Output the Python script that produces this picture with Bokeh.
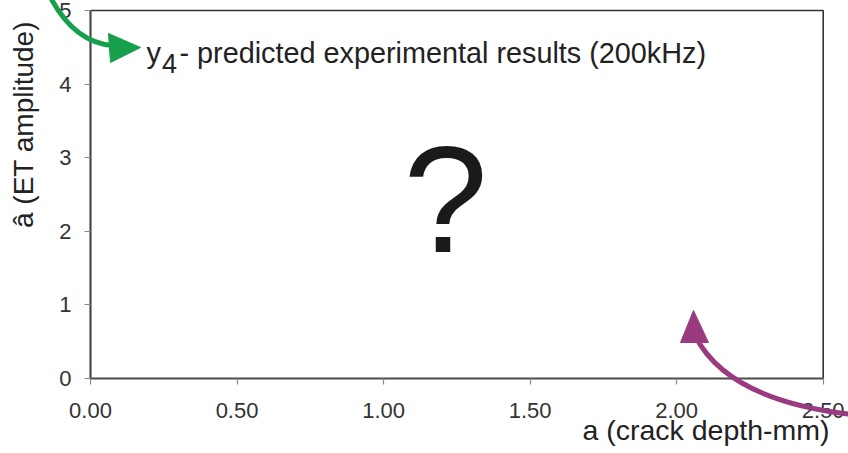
from bokeh.plotting import figure
from bokeh.models import (Range1d, LinearAxis, FixedTicker, NumeralTickFormatter,
                          Label)
from bokeh.embed import file_html
from bokeh.resources import INLINE
import math

# ---- data ----
x_ticks = [0.0, 0.5, 1.0, 1.5, 2.0, 2.5]
y_ticks = [0, 1, 2, 3, 4, 5]
x_title = "a (crack depth-mm)"
y_title = "\u00e2 (ET amplitude)"
note_main = "y"
note_sub = "4"
note_rest = "- predicted experimental results (200kHz)"
center_mark = "?"

W, H = 848, 453
# frame of the chart in pixels (axes drawn inside a full-canvas frame)
L, R, T, B = 90.0, 822.7, 10.0, 378.0
XMAX, YMAX = x_ticks[-1], y_ticks[-1]
kx = XMAX / (R - L)
ky = YMAX / (B - T)
SHIFT = 0.355  # baseline correction, fraction of font size

def X(px):
    return (px - L) * kx

def Y(py):
    return (B - py) * ky

p = figure(width=W, height=H, output_backend="svg", toolbar_location=None,
           x_range=Range1d(X(0), X(W)), y_range=Range1d(Y(H), Y(0)),
           x_axis_location=None, y_axis_location=None,
           min_border=0, min_border_left=0, min_border_right=0,
           min_border_top=0, min_border_bottom=0)
p.outline_line_color = None
p.grid.visible = False
p.background_fill_color = "white"
p.border_fill_color = "white"

FONT = "Liberation Sans"

xa = LinearAxis(fixed_location=0, bounds=(x_ticks[0], x_ticks[-1]),
                ticker=FixedTicker(ticks=x_ticks),
                formatter=NumeralTickFormatter(format="0.00"))
ya = LinearAxis(fixed_location=0, bounds=(y_ticks[0], y_ticks[-1]),
                ticker=FixedTicker(ticks=y_ticks))
for ax in (xa, ya):
    ax.axis_line_color = "#4a4a4a"
    ax.axis_line_width = 2.2
    ax.major_tick_line_color = "#8a8a8a"
    ax.major_tick_line_width = 1.2
    ax.major_tick_out = 6
    ax.major_tick_in = 0
    ax.minor_tick_line_color = None
    ax.major_label_text_font = FONT
    ax.major_label_text_font_size = "22px"
    ax.major_label_text_color = "#333333"
xa.major_label_standoff = 18
ya.major_label_standoff = 13
p.add_layout(xa, "below")
p.add_layout(ya, "left")

# top and right border of the frame
p.line([x_ticks[0], x_ticks[-1], x_ticks[-1]], [y_ticks[-1], y_ticks[-1], y_ticks[0]],
       line_color="#333333", line_width=1.6)

def label(px, py, text, fs, align="left", color="#222222", angle=0.0):
    if angle == 0.0:
        x, y = X(px), Y(py - SHIFT * fs)
    else:
        x, y = X(px - SHIFT * fs), Y(py)
    p.add_layout(Label(x=x, y=y, text=text, text_align=align,
                       text_baseline="alphabetic", text_font=FONT,
                       text_font_size=f"{fs}px", text_color=color, angle=angle))

# axis titles
label(829, 440, x_title, 28.5, align="right")
label(33, 124, y_title, 28, align="center", angle=math.pi / 2)

# annotation text
label(146, 63, note_main, 29)
label(161.5, 73, note_sub, 27)
label(179, 63, note_rest, 28.8)
label(445, 252, center_mark, 152, align="center", color="#1a1a1a")

# curved arrows
GREEN = "#17a04b"
PURPLE = "#9a3b7f"
g1 = p.quadratic(x0=[X(50)], y0=[Y(-3)], x1=[X(112)], y1=[Y(45)],
                 cx=[X(74)], cy=[Y(42)], line_color=GREEN, line_width=5)
g2 = p.patch([X(140), X(108), X(110)], [Y(47), Y(33), Y(62)],
             fill_color=GREEN, line_color=GREEN, line_width=1)
m1 = p.quadratic(x0=[X(695)], y0=[Y(336)], x1=[X(852)], y1=[Y(414)],
                 cx=[X(728)], cy=[Y(400)], line_color=PURPLE, line_width=5)
m2 = p.patch([X(693), X(680), X(708)], [Y(310), Y(342), Y(342)],
             fill_color=PURPLE, line_color=PURPLE, line_width=1)
for r in (g1, g2, m1, m2):
    r.level = "overlay"

open("out.html", "w").write(file_html(p, INLINE))
